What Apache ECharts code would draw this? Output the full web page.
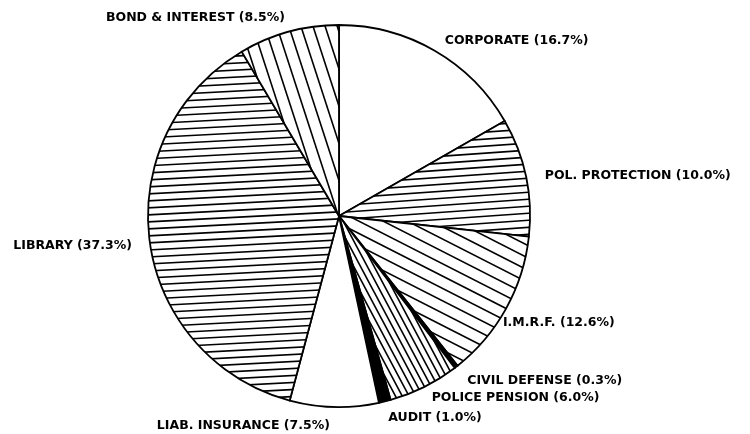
<!DOCTYPE html>
<html><head><meta charset="utf-8">
<script src="https://cdn.jsdelivr.net/npm/echarts@6/dist/echarts.min.js"></script>
<style>html,body{margin:0;padding:0;background:#fff}#c{width:750px;height:434px}</style>
</head><body><div id="c"></div>
<script>
const categories = ['CORPORATE', 'POL. PROTECTION', 'I.M.R.F.', 'CIVIL DEFENSE', 'POLICE PENSION', 'AUDIT', 'LIAB. INSURANCE', 'LIBRARY', 'BOND & INTEREST'];
const shares = [16.7, 10.0, 12.6, 0.3, 6.0, 1.0, 7.5, 37.3, 8.5];

// small label nudges (layout only)
const labelNudge = [[1, -1], [5, 1], [-16, 10], [1, 6], [-1, 2], [-3, 7], [0, 9], [-4, 2], [3, -4]];

const W = 750, H = 434;
function hatch(deg, gap) {
  const c = document.createElement('canvas');
  c.width = W; c.height = H;
  const g = c.getContext('2d');
  g.fillStyle = '#fff'; g.fillRect(0, 0, W, H);
  g.strokeStyle = '#000'; g.lineWidth = 1.6;
  const a = deg * Math.PI / 180, ux = Math.cos(a), uy = Math.sin(a);
  const nx = -uy, ny = ux, L = 1200, ox = W / 2, oy = H / 2;
  for (let k = -120; k <= 120; k++) {
    const px = ox + nx * k * gap, py = oy + ny * k * gap;
    g.beginPath(); g.moveTo(px - ux * L, py - uy * L); g.lineTo(px + ux * L, py + uy * L); g.stroke();
  }
  return { image: c, repeat: 'no-repeat' };
}
const fills = [
  '#fff',
  hatch(-4, 7),
  hatch(27, 11),
  '#000',
  hatch(62, 6),
  '#000',
  '#fff',
  hatch(-3, 7),
  hatch(72, 11.5)
];

const chart = echarts.init(document.getElementById('c'));
chart.setOption({
  backgroundColor: '#fff',
  animation: false,
  series: [{
    type: 'pie',
    center: [339, 216],
    radius: 191,
    startAngle: 90,
    clockwise: true,
    avoidLabelOverlap: false,
    itemStyle: { borderColor: '#000', borderWidth: 1.8 },
    label: {
      position: 'outside',
      formatter: p => p.name + ' (' + p.value.toFixed(1) + '%)',
      fontFamily: 'DejaVu Sans', fontWeight: 'bold', fontSize: 12.5, color: '#000',
      distanceToLabelLine: 4
    },
    labelLine: { show: false, length: 10, length2: 0 },
    labelLayout: p => ({ dx: labelNudge[p.dataIndex][0], dy: labelNudge[p.dataIndex][1] }),
    emphasis: { disabled: true },
    data: categories.map((n, i) => ({ name: n, value: shares[i], itemStyle: { color: fills[i] } }))
  }]
});
</script>
</body></html>
